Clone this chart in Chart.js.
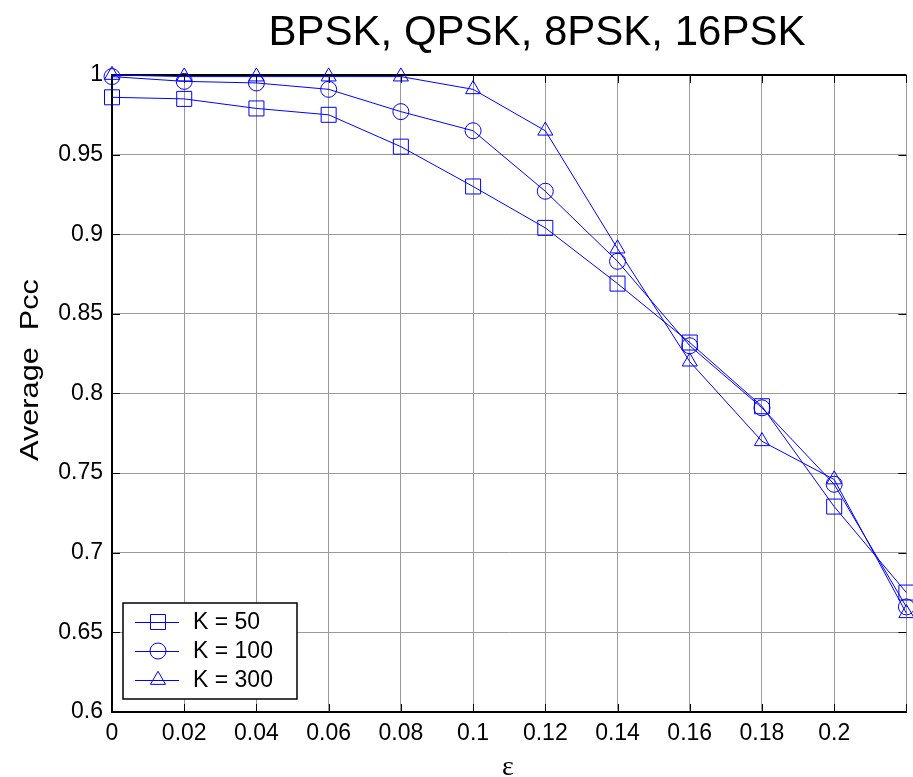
<!DOCTYPE html>
<html>
<head>
<meta charset="utf-8">
<script src="https://cdn.jsdelivr.net/npm/chart.js@4.4.1/dist/chart.umd.min.js"></script>
<style>
  html, body { margin: 0; padding: 0; background: #fff; overflow: hidden; }
  #wrap { position: relative; width: 918px; height: 777px; }
</style>
</head>
<body>
<div id="wrap"><canvas id="chart"></canvas></div>
<script>
// values
const epsilon = [0, 0.02, 0.04, 0.06, 0.08, 0.1, 0.12, 0.14, 0.16, 0.18, 0.2, 0.22];
const k50 = [0.986, 0.985, 0.979, 0.975, 0.955, 0.930, 0.904, 0.869, 0.832, 0.792, 0.729, 0.675];
const k100 = [0.999, 0.996, 0.995, 0.991, 0.977, 0.965, 0.927, 0.883, 0.830, 0.791, 0.743, 0.666];
const k300 = [1.0, 0.999, 0.999, 0.999, 0.999, 0.991, 0.965, 0.891, 0.820, 0.770, 0.746, 0.662];
const seriesNames = ["K = 50", "K = 100", "K = 300"];
const xTickLabels = ["0", "0.02", "0.04", "0.06", "0.08", "0.1", "0.12", "0.14", "0.16", "0.18", "0.2", ""];
const yTickLabels = ["0.6", "0.65", "0.7", "0.75", "0.8", "0.85", "0.9", "0.95", "1"];

const BLUE = "#0000ff";
const SANS = "'Liberation Sans', Arial, sans-serif";
const SERIF = "'Liberation Serif', 'Times New Roman', serif";

const toPoints = (ys) => ys.map((y, i) => ({ x: epsilon[i], y }));

const makeSet = (label, ys, style, radius) => ({
  label,
  data: toPoints(ys),
  borderColor: BLUE,
  backgroundColor: "rgba(0,0,0,0)",
  borderWidth: 1,
  pointStyle: style,
  pointRadius: radius,
  pointBorderWidth: 1,
  pointBorderColor: BLUE,
  pointBackgroundColor: "rgba(0,0,0,0)",
  tension: 0,
  clip: false,
});

// MATLAB-ish frame: top border + inward tick marks
const framePlugin = {
  id: "frame",
  beforeDatasetsDraw(chart) {
    const { ctx, chartArea: a, scales } = chart;
    ctx.save();
    ctx.strokeStyle = "#000";
    ctx.lineWidth = 1;
    ctx.beginPath();
    scales.x.ticks.forEach((t) => {
      const px = Math.round(scales.x.getPixelForValue(t.value)) + 0.5;
      ctx.moveTo(px, a.bottom); ctx.lineTo(px, a.bottom - 8);
      ctx.moveTo(px, a.top); ctx.lineTo(px, a.top + 8);
    });
    scales.y.ticks.forEach((t) => {
      const py = Math.round(scales.y.getPixelForValue(t.value)) + 0.5;
      ctx.moveTo(a.left, py); ctx.lineTo(a.left + 8, py);
      ctx.moveTo(a.right, py); ctx.lineTo(a.right - 8, py);
    });
    ctx.stroke();
    ctx.lineWidth = 2;
    ctx.beginPath();
    ctx.moveTo(a.left, a.top);
    ctx.lineTo(a.right, a.top);
    ctx.stroke();
    ctx.restore();
  },
};

// title, x label and stretched y label, placed like the original figure
const textPlugin = {
  id: "texts",
  afterDraw(chart) {
    const { ctx } = chart;
    ctx.save();
    ctx.fillStyle = "#000";
    ctx.font = "42px " + SANS;
    ctx.textAlign = "center";
    ctx.textBaseline = "alphabetic";
    ctx.fillText("BPSK, QPSK, 8PSK, 16PSK", 537, 45);

    ctx.font = "28px " + SERIF;
    ctx.fillText("ε", 508, 775);

    ctx.translate(38, 370);
    ctx.rotate(-Math.PI / 2);
    ctx.scale(1.18, 1);
    ctx.font = "26px " + SANS;
    ctx.fillText("Average  Pcc", 0, 0);
    ctx.restore();
  },
};

// boxed legend with line + marker samples, lower left of the axes
const legendPlugin = {
  id: "boxLegend",
  afterDraw(chart) {
    const { ctx } = chart;
    const box = { x: 123, y: 603, w: 174, h: 96 };
    ctx.save();
    ctx.fillStyle = "#fff";
    ctx.fillRect(box.x, box.y, box.w, box.h);
    ctx.strokeStyle = "#000";
    ctx.lineWidth = 1.5;
    ctx.strokeRect(box.x, box.y, box.w, box.h);
    chart.data.datasets.forEach((ds, i) => {
      const y = 622 + i * 29;
      ctx.strokeStyle = BLUE;
      ctx.lineWidth = 1;
      ctx.beginPath();
      ctx.moveTo(135, y + 0.5);
      ctx.lineTo(179, y + 0.5);
      ctx.stroke();
      ctx.fillStyle = "rgba(0,0,0,0)";
      Chart.helpers.drawPoint(ctx, {
        pointStyle: ds.pointStyle,
        radius: ds.pointRadius,
        rotation: 0,
        borderWidth: 1,
      }, 158, y);
      ctx.fillStyle = "#000";
      ctx.font = "23px " + SANS;
      ctx.textAlign = "left";
      ctx.textBaseline = "middle";
      ctx.fillText(ds.label, 193, y + 1);
    });
    ctx.restore();
  },
};

new Chart(document.getElementById("chart"), {
  type: "line",
  data: {
    datasets: [
      makeSet(seriesNames[0], k50, "rect", 10.6),
      makeSet(seriesNames[1], k100, "circle", 8),
      makeSet(seriesNames[2], k300, "triangle", 8.7),
    ],
  },
  options: {
    responsive: true,
    maintainAspectRatio: false,
    animation: false,
    layout: { padding: { top: 75, right: 2, bottom: 0, left: 0 } },
    plugins: {
      legend: { display: false },
      title: { display: false },
      tooltip: { enabled: false },
    },
    scales: {
      x: {
        type: "linear",
        min: 0,
        max: 0.22,
        afterFit: (scale) => { scale.height = 65; },
        afterBuildTicks: (scale) => {
          scale.ticks = epsilon.map((v) => ({ value: v }));
        },
        ticks: {
          color: "#000",
          font: { family: SANS, size: 23 },
          padding: 8,
          maxRotation: 0,
          autoSkip: false,
          callback: (v, i) => xTickLabels[i],
        },
        grid: { color: "#9a9a9a", lineWidth: 1, drawTicks: false },
        border: { color: "#000", width: 2 },
      },
      y: {
        min: 0.6,
        max: 1,
        afterFit: (scale) => { scale.width = 112; },
        ticks: {
          stepSize: 0.05,
          color: "#000",
          font: { family: SANS, size: 23 },
          padding: 9,
          autoSkip: false,
          callback: (v, i) => yTickLabels[i],
        },
        grid: { color: "#9a9a9a", lineWidth: 1, drawTicks: false },
        border: { color: "#000", width: 2 },
      },
    },
  },
  plugins: [framePlugin, textPlugin, legendPlugin],
});
</script>
</body>
</html>
